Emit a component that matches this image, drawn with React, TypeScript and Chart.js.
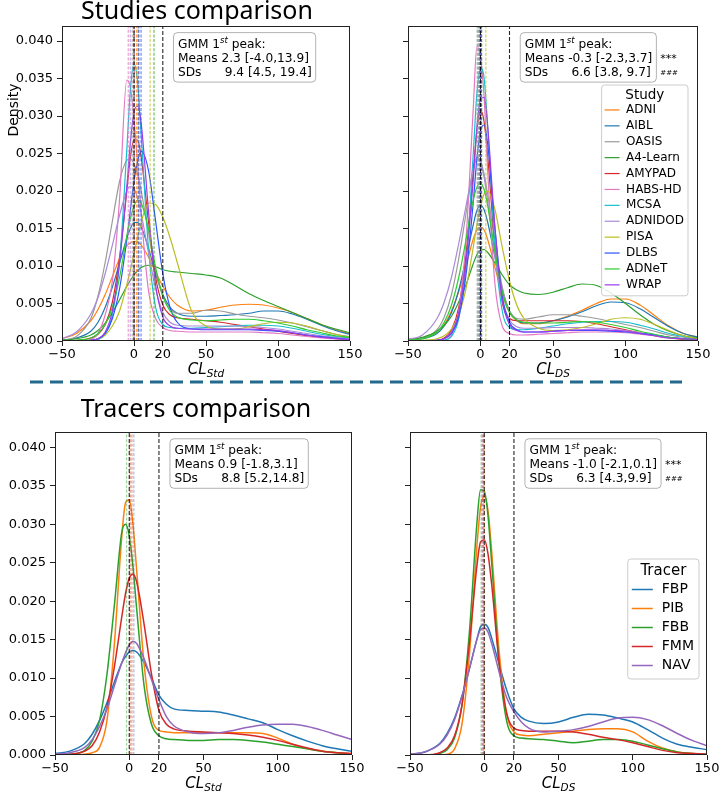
import React, { useEffect, useRef } from "react";
import { Chart, registerables } from "chart.js";

Chart.register(...registerables);

const SANS = '"DejaVu Sans", Verdana, sans-serif';
const TITLE_FONT = '"Noto Sans", "Open Sans", sans-serif';

// Centiloid grid on which every density curve is sampled
const CL_GRID = [-50, -40, -30, -25, -20, -15, -10, -5, -2.5, 0, 2.5, 5, 10, 15, 20, 25, 30, 40, 50, 60, 70, 80, 90, 100, 110, 120, 130, 140, 150];

const X_TICKS = [-50, 0, 20, 50, 100, 150];
const Y_TICKS = [0, 0.005, 0.01, 0.015, 0.02, 0.025, 0.03, 0.035, 0.04];
const Y_MAX = 0.042;
const CUTOFFS = [0, 20];

const STUDIES = ["ADNI", "AIBL", "OASIS", "A4-Learn", "AMYPAD", "HABS-HD", "MCSA", "ADNIDOD", "PISA", "DLBS", "ADNeT", "WRAP"];
const STUDY_COLORS = ["#ff7f0e", "#1f77b4", "#9a9a9a", "#2ca02c", "#d62728", "#e377c2", "#17becf", "#a98bd6", "#bcbd22", "#2a55ff", "#2fcc2f", "#9a3cf0"];
const TRACERS = ["FBP", "PIB", "FBB", "FMM", "NAV"];
const TRACER_COLORS = ["#1f77b4", "#ff7f0e", "#2ca02c", "#d62728", "#9467bd"];

// ---- Studies, standard centiloid (CL_Std) densities ----
const adniStd = [0.0003, 0.0010, 0.0027, 0.0042, 0.0062, 0.0086, 0.0110, 0.0127, 0.0131, 0.0133, 0.0132, 0.0128, 0.0112, 0.0092, 0.0073, 0.0058, 0.0048, 0.0040, 0.0041, 0.0045, 0.0048, 0.0049, 0.0048, 0.0044, 0.0038, 0.0030, 0.0022, 0.0015, 0.0010];
const aiblStd = [0.0001, 0.0004, 0.0013, 0.0025, 0.0045, 0.0072, 0.0104, 0.0137, 0.0150, 0.0158, 0.0158, 0.0152, 0.0124, 0.0090, 0.0062, 0.0045, 0.0037, 0.0033, 0.0033, 0.0034, 0.0035, 0.0037, 0.0040, 0.0040, 0.0036, 0.0029, 0.0021, 0.0014, 0.0009];
const oasisStd = [0.0001, 0.0006, 0.0030, 0.0060, 0.0105, 0.0160, 0.0213, 0.0241, 0.0243, 0.0236, 0.0222, 0.0200, 0.0145, 0.0095, 0.0060, 0.0043, 0.0037, 0.0037, 0.0041, 0.0040, 0.0036, 0.0033, 0.0031, 0.0028, 0.0024, 0.0019, 0.0014, 0.0009, 0.0006];
const a4Std = [0.0001, 0.0003, 0.0008, 0.0014, 0.0024, 0.0038, 0.0055, 0.0073, 0.0081, 0.0088, 0.0094, 0.0098, 0.0101, 0.0099, 0.0095, 0.0093, 0.0092, 0.0090, 0.0088, 0.0084, 0.0074, 0.0063, 0.0054, 0.0046, 0.0038, 0.0030, 0.0022, 0.0016, 0.0011];
const amypadStd = [0, 0.0001, 0.0004, 0.0009, 0.0022, 0.0052, 0.0112, 0.0200, 0.0245, 0.0268, 0.0268, 0.0245, 0.0160, 0.0085, 0.0048, 0.0035, 0.0031, 0.0029, 0.0027, 0.0025, 0.0022, 0.0019, 0.0016, 0.0013, 0.0010, 0.0007, 0.0005, 0.0003, 0.0002];
const habsStd = [0, 0, 0.0002, 0.0010, 0.0035, 0.0080, 0.0190, 0.0348, 0.0338, 0.0295, 0.0236, 0.0170, 0.0068, 0.0030, 0.0018, 0.0014, 0.0013, 0.0012, 0.0012, 0.0012, 0.0012, 0.0012, 0.0011, 0.0010, 0.0008, 0.0006, 0.0004, 0.0003, 0.0002];
const mcsaStd = [0, 0, 0, 0.0002, 0.0009, 0.0035, 0.0105, 0.0255, 0.0335, 0.0370, 0.0345, 0.0275, 0.0125, 0.0045, 0.0022, 0.0018, 0.0017, 0.0017, 0.0018, 0.0019, 0.0020, 0.0021, 0.0021, 0.0020, 0.0017, 0.0013, 0.0009, 0.0006, 0.0004];
const adnidodStd = [0.0003, 0.0012, 0.0036, 0.0058, 0.0090, 0.0128, 0.0168, 0.0200, 0.0206, 0.0203, 0.0190, 0.0170, 0.0118, 0.0070, 0.0038, 0.0025, 0.0021, 0.0020, 0.0020, 0.0020, 0.0020, 0.0019, 0.0018, 0.0016, 0.0013, 0.0010, 0.0007, 0.0005, 0.0003];
const pisaStd = [0, 0, 0.0001, 0.0003, 0.0008, 0.0020, 0.0040, 0.0075, 0.0095, 0.0117, 0.0138, 0.0158, 0.0184, 0.0182, 0.0165, 0.0138, 0.0105, 0.0040, 0.0020, 0.0016, 0.0016, 0.0019, 0.0023, 0.0025, 0.0024, 0.0020, 0.0014, 0.0009, 0.0005];
const dlbsStd = [0, 0, 0.0001, 0.0003, 0.0010, 0.0030, 0.0070, 0.0135, 0.0175, 0.0213, 0.0240, 0.0253, 0.0228, 0.0160, 0.0090, 0.0045, 0.0025, 0.0016, 0.0015, 0.0015, 0.0015, 0.0015, 0.0014, 0.0013, 0.0011, 0.0008, 0.0006, 0.0004, 0.0002];
const adnetStd = [0, 0.0001, 0.0004, 0.0010, 0.0022, 0.0045, 0.0085, 0.0140, 0.0163, 0.0180, 0.0188, 0.0184, 0.0150, 0.0098, 0.0060, 0.0040, 0.0032, 0.0028, 0.0027, 0.0028, 0.0029, 0.0029, 0.0027, 0.0024, 0.0020, 0.0015, 0.0011, 0.0007, 0.0005];
const wrapStd = [0, 0, 0.0001, 0.0003, 0.0012, 0.0040, 0.0105, 0.0205, 0.0265, 0.0305, 0.0313, 0.0290, 0.0175, 0.0075, 0.0032, 0.0020, 0.0017, 0.0016, 0.0016, 0.0016, 0.0016, 0.0016, 0.0015, 0.0014, 0.0011, 0.0008, 0.0005, 0.0003, 0.0002];

// ---- Studies, dataset-specific centiloid (CL_DS) densities ----
const adniDs = [0.0001, 0.0004, 0.0012, 0.0022, 0.0040, 0.0066, 0.0100, 0.0136, 0.0148, 0.0152, 0.0148, 0.0135, 0.0098, 0.0062, 0.0038, 0.0027, 0.0023, 0.0023, 0.0027, 0.0033, 0.0041, 0.0050, 0.0056, 0.0056, 0.0048, 0.0034, 0.0020, 0.0010, 0.0005];
const aiblDs = [0.0001, 0.0003, 0.0010, 0.0020, 0.0038, 0.0068, 0.0110, 0.0155, 0.0174, 0.0181, 0.0175, 0.0158, 0.0112, 0.0068, 0.0040, 0.0028, 0.0024, 0.0024, 0.0027, 0.0032, 0.0039, 0.0047, 0.0052, 0.0051, 0.0043, 0.0031, 0.0019, 0.0010, 0.0005];
const oasisDs = [0.0001, 0.0004, 0.0015, 0.0032, 0.0062, 0.0110, 0.0170, 0.0230, 0.0245, 0.0240, 0.0222, 0.0195, 0.0130, 0.0072, 0.0040, 0.0030, 0.0029, 0.0032, 0.0035, 0.0035, 0.0033, 0.0030, 0.0026, 0.0022, 0.0018, 0.0013, 0.0008, 0.0005, 0.0003];
const a4Ds = [0.0002, 0.0005, 0.0013, 0.0021, 0.0033, 0.0052, 0.0075, 0.0103, 0.0115, 0.0121, 0.0122, 0.0118, 0.0104, 0.0088, 0.0075, 0.0068, 0.0064, 0.0062, 0.0065, 0.0071, 0.0076, 0.0074, 0.0064, 0.0050, 0.0035, 0.0022, 0.0013, 0.0007, 0.0004];
const amypadDs = [0, 0, 0.0001, 0.0004, 0.0015, 0.0045, 0.0115, 0.0225, 0.0280, 0.0308, 0.0292, 0.0245, 0.0125, 0.0052, 0.0030, 0.0027, 0.0027, 0.0027, 0.0027, 0.0027, 0.0026, 0.0023, 0.0019, 0.0015, 0.0011, 0.0007, 0.0004, 0.0002, 0.0001];
const habsDs = [0, 0, 0, 0.0001, 0.0008, 0.0040, 0.0135, 0.0310, 0.0393, 0.0378, 0.0325, 0.0225, 0.0075, 0.0020, 0.0010, 0.0008, 0.0008, 0.0009, 0.0010, 0.0011, 0.0012, 0.0012, 0.0012, 0.0011, 0.0009, 0.0007, 0.0005, 0.0003, 0.0002];
const mcsaDs = [0, 0, 0, 0.0001, 0.0006, 0.0030, 0.0100, 0.0250, 0.0330, 0.0364, 0.0350, 0.0285, 0.0125, 0.0040, 0.0018, 0.0015, 0.0015, 0.0017, 0.0020, 0.0023, 0.0025, 0.0026, 0.0026, 0.0025, 0.0021, 0.0016, 0.0010, 0.0006, 0.0003];
const adnidodDs = [0.0002, 0.0008, 0.0030, 0.0052, 0.0085, 0.0130, 0.0180, 0.0228, 0.0243, 0.0238, 0.0218, 0.0185, 0.0112, 0.0055, 0.0028, 0.0019, 0.0017, 0.0017, 0.0018, 0.0018, 0.0018, 0.0017, 0.0016, 0.0014, 0.0011, 0.0008, 0.0005, 0.0003, 0.0002];
const pisaDs = [0, 0.0001, 0.0003, 0.0007, 0.0016, 0.0035, 0.0070, 0.0125, 0.0155, 0.0180, 0.0196, 0.0200, 0.0175, 0.0125, 0.0080, 0.0048, 0.0030, 0.0017, 0.0014, 0.0015, 0.0018, 0.0023, 0.0029, 0.0031, 0.0029, 0.0022, 0.0014, 0.0007, 0.0003];
const dlbsDs = [0, 0, 0.0001, 0.0003, 0.0010, 0.0032, 0.0088, 0.0185, 0.0243, 0.0280, 0.0288, 0.0262, 0.0150, 0.0060, 0.0025, 0.0015, 0.0012, 0.0012, 0.0013, 0.0014, 0.0014, 0.0014, 0.0013, 0.0012, 0.0010, 0.0008, 0.0005, 0.0003, 0.0002];
const adnetDs = [0.0001, 0.0003, 0.0012, 0.0025, 0.0048, 0.0085, 0.0135, 0.0188, 0.0205, 0.0210, 0.0202, 0.0180, 0.0118, 0.0065, 0.0038, 0.0028, 0.0025, 0.0024, 0.0024, 0.0025, 0.0026, 0.0025, 0.0022, 0.0018, 0.0013, 0.0009, 0.0005, 0.0003, 0.0002];
const wrapDs = [0, 0, 0.0001, 0.0003, 0.0012, 0.0038, 0.0105, 0.0215, 0.0285, 0.0322, 0.0325, 0.0285, 0.0150, 0.0055, 0.0022, 0.0014, 0.0012, 0.0012, 0.0013, 0.0014, 0.0015, 0.0015, 0.0014, 0.0013, 0.0010, 0.0007, 0.0004, 0.0003, 0.0002];

// ---- Tracers, CL_Std densities ----
const fbpStd = [0.0002, 0.0005, 0.0015, 0.0027, 0.0045, 0.0068, 0.0095, 0.0120, 0.0128, 0.0134, 0.0136, 0.0134, 0.0120, 0.0100, 0.0078, 0.0066, 0.0060, 0.0058, 0.0057, 0.0056, 0.0052, 0.0047, 0.0042, 0.0033, 0.0025, 0.0018, 0.0012, 0.0008, 0.0005];
const pibStd = [0, 0, 0.0001, 0.0003, 0.0010, 0.0045, 0.0145, 0.0285, 0.0328, 0.0332, 0.0300, 0.0240, 0.0118, 0.0050, 0.0032, 0.0030, 0.0029, 0.0029, 0.0029, 0.0029, 0.0029, 0.0029, 0.0028, 0.0022, 0.0014, 0.0008, 0.0005, 0.0003, 0.0002];
const fbbStd = [0, 0.0001, 0.0006, 0.0018, 0.0045, 0.0105, 0.0195, 0.0290, 0.0300, 0.0285, 0.0245, 0.0190, 0.0090, 0.0040, 0.0025, 0.0021, 0.0020, 0.0019, 0.0019, 0.0020, 0.0020, 0.0019, 0.0017, 0.0014, 0.0011, 0.0008, 0.0005, 0.0003, 0.0001];
const fmmStd = [0, 0.0001, 0.0005, 0.0012, 0.0030, 0.0062, 0.0115, 0.0180, 0.0210, 0.0230, 0.0235, 0.0225, 0.0170, 0.0105, 0.0058, 0.0040, 0.0034, 0.0031, 0.0030, 0.0029, 0.0028, 0.0026, 0.0023, 0.0019, 0.0014, 0.0009, 0.0005, 0.0003, 0.0002];
const navStd = [0.0001, 0.0003, 0.0010, 0.0020, 0.0037, 0.0060, 0.0090, 0.0120, 0.0133, 0.0143, 0.0148, 0.0145, 0.0125, 0.0098, 0.0072, 0.0050, 0.0038, 0.0030, 0.0028, 0.0029, 0.0032, 0.0036, 0.0039, 0.0040, 0.0040, 0.0037, 0.0032, 0.0026, 0.0020];

// ---- Tracers, CL_DS densities ----
const fbpDs = [0.0001, 0.0004, 0.0015, 0.0028, 0.0048, 0.0077, 0.0112, 0.0150, 0.0167, 0.0170, 0.0166, 0.0152, 0.0118, 0.0085, 0.0060, 0.0049, 0.0044, 0.0041, 0.0043, 0.0049, 0.0053, 0.0052, 0.0048, 0.0043, 0.0033, 0.0022, 0.0014, 0.0010, 0.0007];
const pibDs = [0, 0, 0, 0.0001, 0.0008, 0.0040, 0.0130, 0.0270, 0.0322, 0.0336, 0.0318, 0.0265, 0.0135, 0.0055, 0.0030, 0.0026, 0.0025, 0.0027, 0.0029, 0.0031, 0.0033, 0.0034, 0.0034, 0.0030, 0.0018, 0.0009, 0.0004, 0.0002, 0.0001];
const fbbDs = [0, 0, 0.0002, 0.0007, 0.0022, 0.0065, 0.0160, 0.0300, 0.0345, 0.0343, 0.0312, 0.0250, 0.0120, 0.0045, 0.0025, 0.0022, 0.0021, 0.0020, 0.0018, 0.0016, 0.0018, 0.0020, 0.0020, 0.0018, 0.0013, 0.0008, 0.0004, 0.0002, 0.0001];
const fmmDs = [0, 0, 0.0003, 0.0009, 0.0025, 0.0065, 0.0145, 0.0245, 0.0277, 0.0280, 0.0262, 0.0222, 0.0120, 0.0055, 0.0035, 0.0032, 0.0031, 0.0031, 0.0031, 0.0030, 0.0027, 0.0023, 0.0020, 0.0016, 0.0011, 0.0006, 0.0003, 0.0002, 0.0001];
const navDs = [0.0001, 0.0004, 0.0014, 0.0026, 0.0046, 0.0076, 0.0112, 0.0150, 0.0163, 0.0165, 0.0160, 0.0145, 0.0108, 0.0075, 0.0056, 0.0043, 0.0035, 0.0030, 0.0031, 0.0033, 0.0037, 0.0043, 0.0048, 0.0049, 0.0046, 0.0038, 0.0028, 0.0019, 0.0012];

// First-peak GMM means per group (dashed verticals)
const studyMeansStd = [1.8, 3.1, -1.2, 13.9, 0.3, -4.0, -0.2, -2.6, 11.2, 4.9, 2.8, 3.4];
const studyMeansDs = [-0.3, -0.3, -2.3, 0.8, -0.4, -1.8, 0.2, -1.5, 3.7, 0.5, -0.9, 0.3];
const tracerMeansStd = [3.1, 0.9, -1.8, 1.8, 0.4];
const tracerMeansDs = [-0.6, 0.1, -2.1, -1.0, -1.5];

// GMM summary text: [means median [range], SDs median [range]]
const studiesStdGmm = ["2.3 [-4.0,13.9]", "9.4 [4.5, 19.4]"];
const studiesDsGmm = ["-0.3 [-2.3,3.7]", "6.6 [3.8, 9.7]"];
const tracersStdGmm = ["0.9 [-1.8,3.1]", "8.8 [5.2,14.8]"];
const tracersDsGmm = ["-1.0 [-2.1,0.1]", "6.3 [4.3,9.9]"];

type Box = { left: number; top: number; width: number; height: number };
type Area = { left: number; top: number; right: number; bottom: number };
type LegendSpec = { title: string; top: number; right: number; titleSize: number; size: number; pad: number; titleRow: number; row: number; handle: number; gap: number };
type PanelSpec = {
  canvas: Box;
  area: Area;
  names: string[];
  colors: string[];
  curves: number[][];
  means: number[];
  meanAlpha: number;
  lineWidth: number;
  yLabels: boolean;
  gmm: string[];
  stars: boolean;
  sub: string;
  title?: { text: string; x: number; y: number };
  yTitle?: { text: string; x: number; y: number };
  legend?: LegendSpec;
};

function rgba(hex: string, a: number) {
  const n = parseInt(hex.slice(1), 16);
  return `rgba(${(n >> 16) & 255},${(n >> 8) & 255},${n & 255},${a})`;
}

function roundRect(ctx: CanvasRenderingContext2D, x: number, y: number, w: number, h: number, r: number) {
  ctx.beginPath();
  ctx.moveTo(x + r, y);
  ctx.arcTo(x + w, y, x + w, y + h, r);
  ctx.arcTo(x + w, y + h, x, y + h, r);
  ctx.arcTo(x, y + h, x, y, r);
  ctx.arcTo(x, y, x + w, y, r);
  ctx.closePath();
}

const fmtTick = (v: number) => (v < 0 ? "\u2212" + Math.abs(v) : String(v));

function decorPlugin(spec: PanelSpec) {
  return {
    id: "panelDecor",
    afterDraw(chart: any) {
      const ctx: CanvasRenderingContext2D = chart.ctx;
      const a = chart.chartArea;
      const ox = spec.canvas.left;
      const oy = spec.canvas.top;
      ctx.save();

      // axes frame
      ctx.strokeStyle = "#222";
      ctx.lineWidth = 1;
      ctx.strokeRect(Math.round(a.left) + 0.5, Math.round(a.top) + 0.5, Math.round(a.right - a.left) - 1, Math.round(a.bottom - a.top) - 1);

      // GMM summary box
      const fs = 12.2;
      const bx = a.left + 0.387 * (a.right - a.left);
      const by = a.top + 0.021 * (a.bottom - a.top);
      const supFont = `italic 8.6px ${SANS}`;
      const mainFont = `${fs}px ${SANS}`;
      const meansTxt = "Means " + spec.gmm[0];
      const sdsTxt = "SDs      " + spec.gmm[1];
      ctx.font = mainFont;
      const wMeans = ctx.measureText(meansTxt).width;
      const wSds = ctx.measureText(sdsTxt).width;
      const w1a = ctx.measureText("GMM 1").width;
      const w1b = ctx.measureText(" peak:").width;
      ctx.font = supFont;
      const wSt = ctx.measureText("st").width;
      const padL = 4.5;
      const padR = 4;
      const bw = padL + Math.max(wMeans, wSds, w1a + wSt + w1b) + padR;
      const bh = 49.5;
      roundRect(ctx, bx, by, bw, bh, 4);
      ctx.fillStyle = "rgba(255,255,255,0.85)";
      ctx.fill();
      ctx.strokeStyle = "rgba(0,0,0,0.3)";
      ctx.stroke();
      ctx.fillStyle = "#000";
      ctx.textAlign = "left";
      ctx.textBaseline = "alphabetic";
      const tx = bx + padL;
      const b1 = by + 15.3;
      ctx.font = mainFont;
      ctx.fillText("GMM 1", tx, b1);
      ctx.font = supFont;
      ctx.fillText("st", tx + w1a, b1 - 5);
      ctx.font = mainFont;
      ctx.fillText(" peak:", tx + w1a + wSt, b1);
      ctx.fillText(meansTxt, tx, b1 + 14);
      ctx.fillText(sdsTxt, tx, b1 + 28);
      if (spec.stars) {
        ctx.font = `11px ${SANS}`;
        ctx.fillText("***", bx + bw + 4, b1 + 14);
        ctx.font = `7px ${SANS}`;
        ctx.fillText("###", bx + bw + 4, b1 + 27);
      }

      // x-axis title: italic CL with subscript
      const cx = (a.left + a.right) / 2;
      const base = a.bottom + 32.5;
      ctx.font = `italic 15px ${SANS}`;
      const wCL = ctx.measureText("CL").width;
      ctx.font = `italic 10.5px ${SANS}`;
      const wSub = ctx.measureText(spec.sub).width;
      const x0 = cx - (wCL + wSub) / 2;
      ctx.font = `italic 15px ${SANS}`;
      ctx.fillText("CL", x0, base);
      ctx.font = `italic 10.5px ${SANS}`;
      ctx.fillText(spec.sub, x0 + wCL, base + 3.5);

      // y-axis title
      if (spec.yTitle) {
        ctx.save();
        ctx.translate(spec.yTitle.x - ox, spec.yTitle.y - oy);
        ctx.rotate(-Math.PI / 2);
        ctx.font = `14px ${SANS}`;
        ctx.textAlign = "center";
        ctx.textBaseline = "middle";
        ctx.fillText(spec.yTitle.text, 0, 0);
        ctx.restore();
      }

      // section heading
      if (spec.title) {
        ctx.font = `25px ${TITLE_FONT}`;
        ctx.textAlign = "center";
        ctx.textBaseline = "alphabetic";
        ctx.fillStyle = "#000";
        ctx.fillText(spec.title.text, spec.title.x - ox, spec.title.y - oy);
      }

      // legend
      if (spec.legend) {
        const L = spec.legend;
        const items = chart.data.datasets.filter((d: any) => d.isSeries);
        ctx.font = `${L.size}px ${SANS}`;
        const tw = Math.max(...items.map((d: any) => ctx.measureText(d.label).width));
        const w = L.pad + L.handle + L.gap + tw + L.pad + 1;
        const h = L.pad + L.titleRow + items.length * L.row + L.pad;
        const left = L.right - ox - w;
        const top = L.top - oy;
        roundRect(ctx, left, top, w, h, 3);
        ctx.fillStyle = "rgba(255,255,255,0.85)";
        ctx.fill();
        ctx.strokeStyle = "#cccccc";
        ctx.lineWidth = 1;
        ctx.stroke();
        ctx.fillStyle = "#000";
        ctx.textBaseline = "middle";
        ctx.textAlign = "center";
        ctx.font = `${L.titleSize}px ${SANS}`;
        ctx.fillText(L.title, left + w / 2, top + L.pad + L.titleRow / 2);
        ctx.textAlign = "left";
        ctx.font = `${L.size}px ${SANS}`;
        items.forEach((d: any, i: number) => {
          const y = top + L.pad + L.titleRow + (i + 0.5) * L.row;
          ctx.strokeStyle = d.borderColor;
          ctx.lineWidth = d.borderWidth;
          ctx.beginPath();
          ctx.moveTo(left + L.pad, y);
          ctx.lineTo(left + L.pad + L.handle, y);
          ctx.stroke();
          ctx.fillStyle = "#000";
          ctx.fillText(d.label, left + L.pad + L.handle + L.gap, y);
        });
      }
      ctx.restore();
    },
  };
}

function buildConfig(spec: PanelSpec): any {
  const { canvas, area } = spec;
  const yW = area.left - canvas.left;
  const xH = canvas.top + canvas.height - area.bottom;
  const padTop = area.top - canvas.top;
  const padRight = canvas.left + canvas.width - area.right;
  const n = spec.curves.length;
  const datasets: any[] = [];
  spec.curves.forEach((vals, i) => {
    datasets.push({
      label: spec.names[i],
      isSeries: true,
      data: CL_GRID.map((x, k) => ({ x, y: vals[k] })),
      borderColor: spec.colors[i],
      borderWidth: spec.lineWidth,
      pointRadius: 0,
      cubicInterpolationMode: "monotone",
      fill: false,
      order: 100 - i,
    });
  });
  spec.means.forEach((m, i) => {
    datasets.push({
      label: "",
      data: [{ x: m, y: 0 }, { x: m, y: Y_MAX }],
      borderColor: rgba(spec.colors[i], spec.meanAlpha),
      borderWidth: 1.2,
      borderDash: [3, 1.6],
      pointRadius: 0,
      fill: false,
      order: 50 + (n - i),
    });
  });
  CUTOFFS.forEach((c) => {
    datasets.push({
      label: "",
      data: [{ x: c, y: 0 }, { x: c, y: Y_MAX }],
      borderColor: "rgba(0,0,0,0.85)",
      borderWidth: 1.1,
      borderDash: [4, 2],
      pointRadius: 0,
      fill: false,
      order: 10,
    });
  });

  const gridOpts = { drawOnChartArea: false, drawTicks: true, tickLength: 5, tickColor: "#222", tickWidth: 1 };
  return {
    type: "line",
    data: { datasets },
    options: {
      responsive: false,
      animation: false,
      events: [],
      layout: { padding: { left: 0, top: padTop, right: padRight, bottom: 0 } },
      plugins: { legend: { display: false }, tooltip: { enabled: false }, title: { display: false } },
      scales: {
        x: {
          type: "linear",
          min: -50,
          max: 150,
          afterBuildTicks: (s: any) => {
            s.ticks = X_TICKS.map((v) => ({ value: v }));
          },
          ticks: {
            autoSkip: false,
            maxRotation: 0,
            padding: 1,
            color: "#000",
            font: { family: SANS, size: 13 },
            callback: (v: any) => fmtTick(Number(v)),
          },
          grid: gridOpts,
          border: { display: false },
          afterFit: (s: any) => {
            s.height = xH;
            s.paddingLeft = 0;
            s.paddingRight = 0;
          },
        },
        y: {
          type: "linear",
          min: 0,
          max: Y_MAX,
          afterBuildTicks: (s: any) => {
            s.ticks = Y_TICKS.map((v) => ({ value: v }));
          },
          ticks: {
            autoSkip: false,
            padding: 4,
            color: "#000",
            font: { family: SANS, size: 13 },
            callback: (v: any) => (spec.yLabels ? Number(v).toFixed(3) : ""),
          },
          grid: gridOpts,
          border: { display: false },
          afterFit: (s: any) => {
            s.width = yW;
            s.paddingTop = 0;
            s.paddingBottom = 0;
          },
        },
      },
    },
    plugins: [decorPlugin(spec)],
  };
}

const PANELS: PanelSpec[] = [
  {
    canvas: { left: 0, top: 0, width: 380, height: 380 },
    area: { left: 62, top: 26, right: 350, bottom: 341 },
    names: STUDIES,
    colors: STUDY_COLORS,
    curves: [adniStd, aiblStd, oasisStd, a4Std, amypadStd, habsStd, mcsaStd, adnidodStd, pisaStd, dlbsStd, adnetStd, wrapStd],
    means: studyMeansStd,
    meanAlpha: 0.7,
    lineWidth: 1.2,
    yLabels: true,
    gmm: studiesStdGmm,
    stars: false,
    sub: "Std",
    title: { text: "Studies comparison", x: 197, y: 19 },
    yTitle: { text: "Density", x: 14, y: 110 },
  },
  {
    canvas: { left: 360, top: 0, width: 360, height: 380 },
    area: { left: 408, top: 26, right: 698, bottom: 341 },
    names: STUDIES,
    colors: STUDY_COLORS,
    curves: [adniDs, aiblDs, oasisDs, a4Ds, amypadDs, habsDs, mcsaDs, adnidodDs, pisaDs, dlbsDs, adnetDs, wrapDs],
    means: studyMeansDs,
    meanAlpha: 0.7,
    lineWidth: 1.2,
    yLabels: false,
    gmm: studiesDsGmm,
    stars: true,
    sub: "DS",
    legend: { title: "Study", top: 85, right: 688, titleSize: 13.5, size: 12, pad: 3, titleRow: 14, row: 15.9, handle: 15, gap: 6.5 },
  },
  {
    canvas: { left: 0, top: 390, width: 380, height: 402 },
    area: { left: 55, top: 432, right: 352, bottom: 755 },
    names: TRACERS,
    colors: TRACER_COLORS,
    curves: [fbpStd, pibStd, fbbStd, fmmStd, navStd],
    means: tracerMeansStd,
    meanAlpha: 0.45,
    lineWidth: 1.5,
    yLabels: true,
    gmm: tracersStdGmm,
    stars: false,
    sub: "Std",
    title: { text: "Tracers comparison", x: 196, y: 417 },
  },
  {
    canvas: { left: 360, top: 390, width: 360, height: 402 },
    area: { left: 410, top: 432, right: 707, bottom: 755 },
    names: TRACERS,
    colors: TRACER_COLORS,
    curves: [fbpDs, pibDs, fbbDs, fmmDs, navDs],
    means: tracerMeansDs,
    meanAlpha: 0.45,
    lineWidth: 1.5,
    yLabels: false,
    gmm: tracersDsGmm,
    stars: true,
    sub: "DS",
    legend: { title: "Tracer", top: 559, right: 699, titleSize: 15, size: 14, pad: 4, titleRow: 17, row: 19, handle: 21, gap: 9 },
  },
];

function Panel({ spec }: { spec: PanelSpec }) {
  const ref = useRef<HTMLCanvasElement>(null);
  useEffect(() => {
    if (!ref.current) return;
    const chart = new Chart(ref.current, buildConfig(spec));
    return () => chart.destroy();
  }, [spec]);
  const c = spec.canvas;
  return (
    <canvas
      ref={ref}
      width={c.width}
      height={c.height}
      style={{ position: "absolute", left: c.left, top: c.top, width: c.width, height: c.height }}
    />
  );
}

export default function App() {
  return (
    <div style={{ position: "absolute", left: 0, top: 0, width: 720, height: 792, background: "#fff", overflow: "hidden" }}>
      <svg width={720} height={792} style={{ position: "absolute", left: 0, top: 0 }}>
        <line x1={30} y1={382} x2={682} y2={382} stroke="#236b8e" strokeWidth={3} strokeDasharray="13 7" />
      </svg>
      {PANELS.map((p, i) => (
        <Panel key={i} spec={p} />
      ))}
    </div>
  );
}
